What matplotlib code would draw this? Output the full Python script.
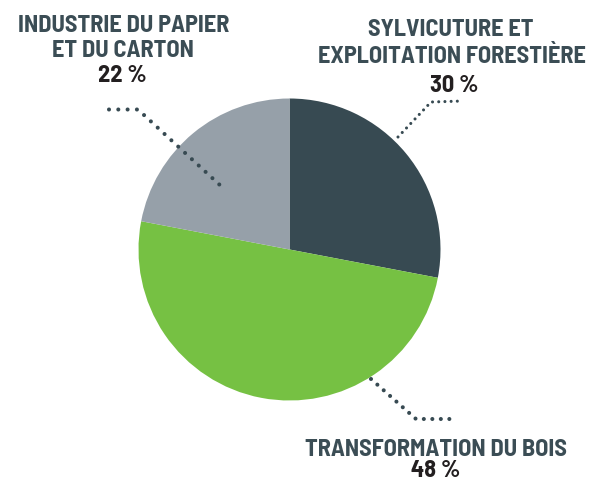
import matplotlib
matplotlib.use("Agg")
import matplotlib.pyplot as plt

# ---- data ----
sectors = ["SYLVICUTURE ET\nEXPLOITATION FORESTIÈRE", "TRANSFORMATION DU BOIS", "INDUSTRIE DU PAPIER\nET DU CARTON"]
label_pct = [30, 48, 22]          # percentages printed in the labels
slice_share = [28, 50, 22]        # slice sizes as drawn in the picture
colors = ["#374a52", "#76c143", "#96a0a9"]

W, H = 594, 482
TXT = "#3b4d55"
PCT = "#231f20"
FONT = ["Barlow Semi Condensed", "DejaVu Sans"]

fig = plt.figure(figsize=(W / 100, H / 100), dpi=100)
ax = fig.add_axes([0, 0, 1, 1])

cx, cy, r = 289.5, H - 249.5, 151
ax.pie(slice_share, colors=colors, startangle=90, counterclock=False,
       center=(cx, cy), radius=r, wedgeprops=dict(linewidth=0))
ax.set_xlim(0, W)
ax.set_ylim(0, H)
ax.set_aspect("auto")
ax.axis("off")

def leader(pts, spacing_px, dot_px):
    xs = [p[0] for p in pts]
    ys = [H - p[1] for p in pts]
    lw = dot_px * 0.72
    ax.plot(xs, ys, color="#374a52", lw=lw, linestyle=(0, (0.001, spacing_px * 0.72 / lw)),
            dash_capstyle="round", solid_capstyle="round", zorder=5)

leader([(109, 109.5), (138, 109.5), (222, 187)], 9.3, 4.1)
leader([(398, 137), (431, 102), (463, 101)], 6.2, 3.1)
leader([(371, 379), (416, 419), (451, 419)], 8.5, 4.1)

def label(x, y_base, text, color, size=17.5):
    fig.text(x / W, 1 - y_base / H, text, ha="center", va="baseline",
             fontsize=size, fontweight="bold", color=color, family=FONT)

label(124, 32, "INDUSTRIE DU PAPIER", TXT)
label(123, 57, "ET DU CARTON", TXT)
label(122.5, 82, f"{label_pct[2]} %", PCT)

label(451, 36, "SYLVICUTURE ET", TXT)
label(451.5, 63.3, "EXPLOITATION FORESTIÈRE", TXT)
label(454, 91.7, f"{label_pct[0]} %", PCT)

label(436, 455.5, "TRANSFORMATION DU BOIS", TXT)
label(435.5, 477, f"{label_pct[1]} %", PCT)

fig.savefig("out.png", dpi=100)
